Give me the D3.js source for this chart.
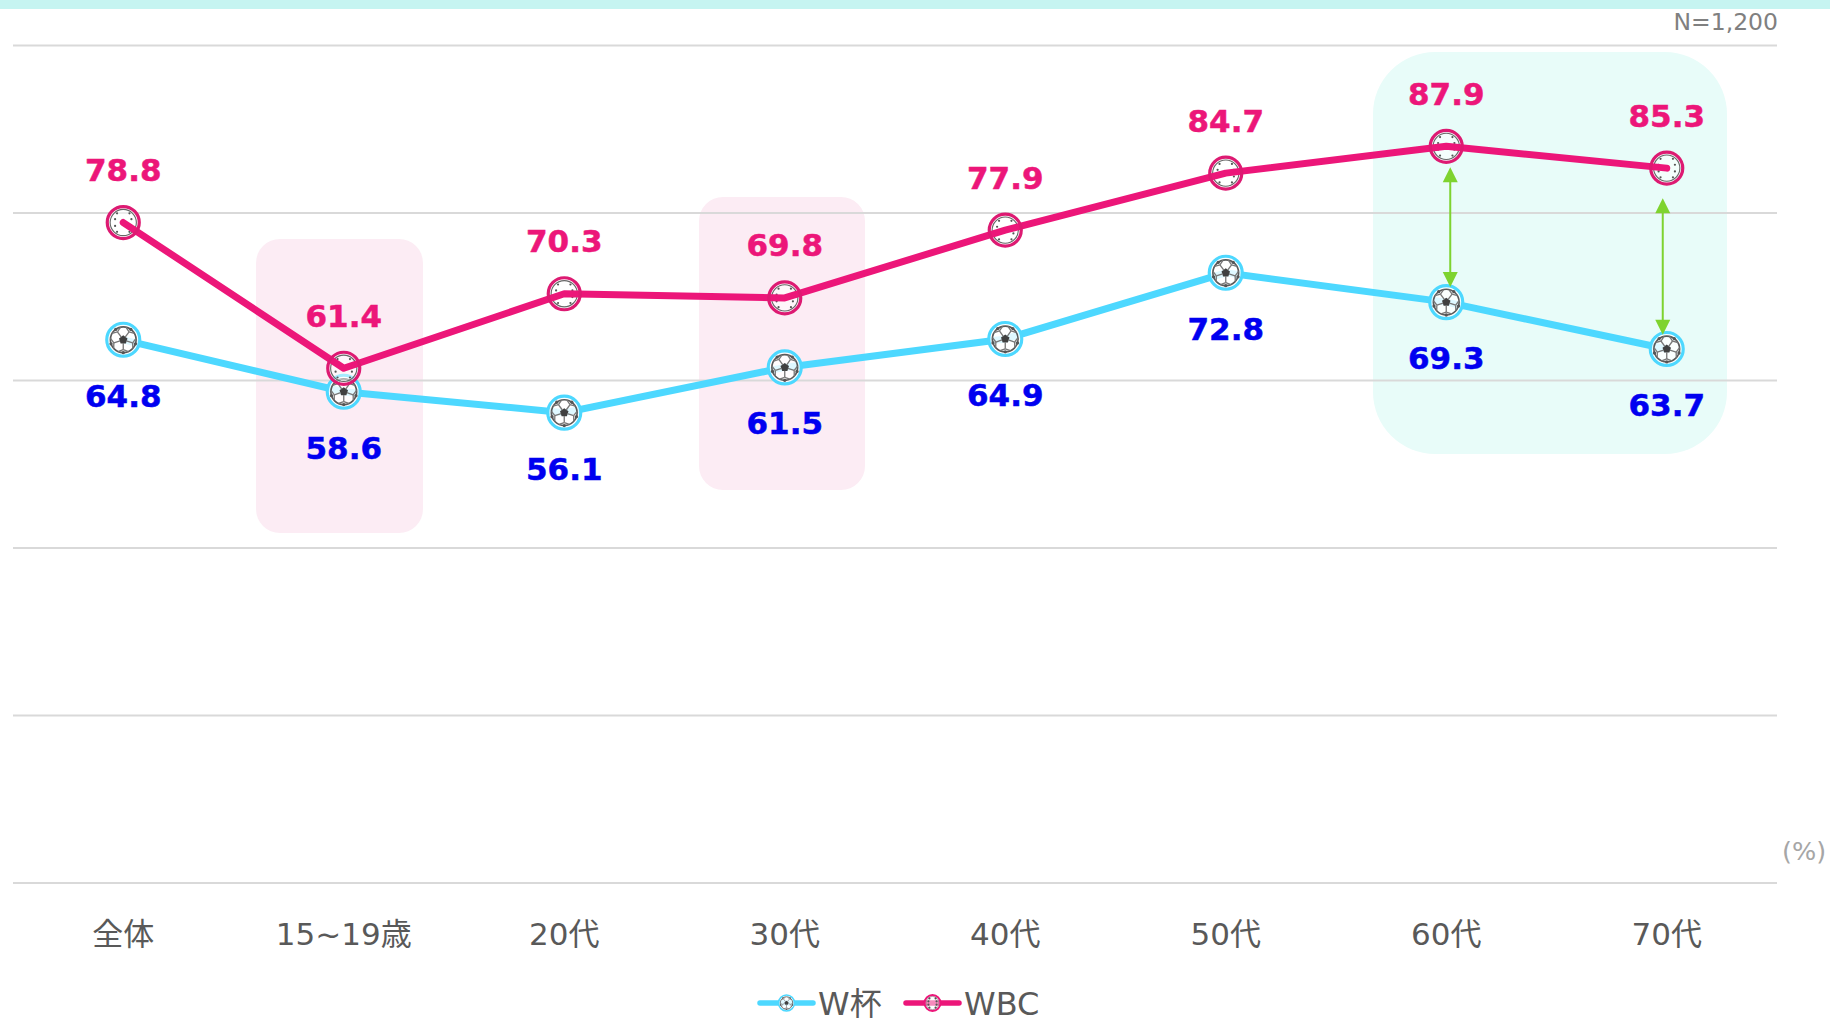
<!DOCTYPE html>
<html><head><meta charset="utf-8">
<script src="https://d3js.org/d3.v7.min.js"></script>
<style>html,body{margin:0;padding:0;background:#fff}svg{display:block}text{font-family:"DejaVu Sans","Noto Sans CJK JP",sans-serif}</style>
</head><body><div id="c"></div>
<script>
const categories=["全体","15~19歳","20代","30代","40代","50代","60代","70代"];
const wcup=[64.8,58.6,56.1,61.5,64.9,72.8,69.3,63.7];
const wbc=[78.8,61.4,70.3,69.8,77.9,84.7,87.9,85.3];
const yTicks=[0,20,40,60,80,100];
const gapArrows=[{cat:"60代",hi:85.4,lo:71.1,dx:4},{cat:"70代",hi:81.7,lo:65.4,dx:-4}];
const W=1830,H=1018;
const svg=d3.select("#c").append("svg").attr("width",W).attr("height",H);
const x=d3.scaleBand().domain(categories).range([13,1777]);
const cx=c=>x(c)+x.bandwidth()/2;
const y=d3.scaleLinear().domain([0,100]).range([882.5,45]);
const BLUE="#4dd8ff",PINK="#ec1679",GREEN="#7ed32f";

svg.append("rect").attr("width",W).attr("height",9).attr("fill","#c6f4f1");
[[256,239,167,294,"#fcecf4",24],[699,197,166,293,"#fcecf4",24],[1373,52,354,402,"#e8fcf9",62]].forEach(d=>{
  svg.append("rect").attr("x",d[0]).attr("y",d[1]).attr("width",d[2]).attr("height",d[3]).attr("rx",d[5]).attr("fill",d[4]);
});
const grid=svg.append("g").call(d3.axisLeft(y).tickValues(yTicks).tickSize(0).tickFormat(""));
grid.select(".domain").remove();
grid.selectAll(".tick line").attr("x1",13).attr("x2",1777).attr("stroke","#d9d9d9").attr("stroke-width",2);

const xa=svg.append("g").attr("transform","translate(0,882.5)").call(d3.axisBottom(x).tickSize(0));
xa.select(".domain").remove();
xa.selectAll("text").attr("font-size",31).attr("fill","#595959").attr("y",62).attr("dy",0);

function soccer(g,r,ring){
  g.append("circle").attr("r",r).attr("fill","#fff").attr("fill-opacity",.82).attr("stroke",ring).attr("stroke-width",r*.19);
  const R=r*.78, pts=d3.range(5).map(i=>{const a=-Math.PI/2+i*2*Math.PI/5;return [Math.cos(a),Math.sin(a)]});
  g.append("circle").attr("r",R).attr("fill","none").attr("stroke","#5a5a5a").attr("stroke-width",r*.1);
  g.append("polygon").attr("points",pts.map(p=>[p[0]*r*.27,p[1]*r*.27].join(",")).join(" ")).attr("fill","#404040");
  pts.forEach(p=>{
    const b=Math.atan2(p[1],p[0])+Math.PI/5,q=[Math.cos(b),Math.sin(b)];
    g.append("line").attr("x1",q[0]*r*.2).attr("y1",q[1]*r*.2).attr("x2",q[0]*r*.6).attr("y2",q[1]*r*.6).attr("stroke","#777").attr("stroke-width",r*.08);
    g.append("line").attr("x1",q[0]*r*.6).attr("y1",q[1]*r*.6).attr("x2",Math.cos(b-.42)*R).attr("y2",Math.sin(b-.42)*R).attr("stroke","#777").attr("stroke-width",r*.08);
    g.append("line").attr("x1",q[0]*r*.6).attr("y1",q[1]*r*.6).attr("x2",Math.cos(b+.42)*R).attr("y2",Math.sin(b+.42)*R).attr("stroke","#777").attr("stroke-width",r*.08);
    g.append("circle").attr("cx",q[0]*R).attr("cy",q[1]*R).attr("r",r*.1).attr("fill","#555");
  });
}
function baseball(g,r,ring){
  g.append("circle").attr("r",r).attr("fill","#fff").attr("fill-opacity",.5);
  g.append("circle").attr("r",r*.82).attr("fill","none").attr("stroke","#666").attr("stroke-width",r*.07);
  [-1,1].forEach(s=>[-.55,-.2,.2,.55].forEach(t=>{
    const px=s*(r*.58-Math.abs(t)*r*.35),py=t*r*1.05;
    g.append("circle").attr("cx",px).attr("cy",py).attr("r",1.1).attr("fill","#555");
  }));
}
const line=d3.line().x((d,i)=>cx(categories[i])).y(d=>y(d));
const at=(d,i)=>`translate(${cx(categories[i])},${y(d)})`;

svg.append("path").datum(wcup).attr("d",line).attr("fill","none").attr("stroke",BLUE).attr("stroke-width",7).attr("stroke-linecap","round");
svg.append("g").selectAll("g").data(wcup).join("g").attr("transform",at).each(function(){soccer(d3.select(this),16.5,BLUE)});
svg.append("g").selectAll("g").data(wbc).join("g").attr("transform",at).each(function(){baseball(d3.select(this),16,PINK)});
svg.append("path").datum(wbc).attr("d",line).attr("fill","none").attr("stroke",PINK).attr("stroke-width",7).attr("stroke-linecap","round").attr("stroke-linejoin","round");
svg.append("g").selectAll("circle").data(wbc).join("circle").attr("transform",at).attr("r",16).attr("fill","none").attr("stroke","#dd1a72").attr("stroke-width",3.2);

gapArrows.forEach(a=>{
  const ax=cx(a.cat)+a.dx,t=y(a.hi),b=y(a.lo);
  const g=svg.append("g");
  g.append("line").attr("x1",ax).attr("x2",ax).attr("y1",t+10).attr("y2",b-10).attr("stroke",GREEN).attr("stroke-width",2);
  g.append("path").attr("d",d3.line()([[ax,t],[ax-7.5,t+15],[ax+7.5,t+15]])+"Z").attr("fill",GREEN);
  g.append("path").attr("d",d3.line()([[ax,b],[ax-7.5,b-15],[ax+7.5,b-15]])+"Z").attr("fill",GREEN);
});

const lab=(vals,color,off)=>svg.append("g").selectAll("text").data(vals).join("text")
  .attr("x",(d,i)=>cx(categories[i])).attr("y",d=>y(d)+off).attr("text-anchor","middle")
  .attr("font-size",31).attr("font-weight",700).attr("fill",color).attr("stroke",color).attr("stroke-width",.5).text(d=>d.toFixed(1));
lab(wbc,PINK,-41.5);lab(wcup,"#0000f0",67);

svg.append("text").attr("x",1778).attr("y",30).attr("text-anchor","end").attr("font-size",23.5).attr("fill","#808080").text("N=1,200");
svg.append("text").attr("x",1782).attr("y",860).attr("font-size",25.5).attr("fill","#a6a6a6").text("(%)");

function legend(x0,label,color,draw){
  const g=svg.append("g").attr("transform","translate("+x0+",1003)");
  g.append("line").attr("x1",2).attr("x2",55).attr("stroke",color).attr("stroke-width",5.5).attr("stroke-linecap","round");
  const m=g.append("g").attr("transform","translate(28.5,0)");draw(m,8,color);
  if(color===PINK)m.append("circle").attr("r",8).attr("fill","none").attr("stroke",color).attr("stroke-width",2);
  g.append("text").attr("x",60).attr("y",12).attr("font-size",32).attr("fill","#595959").text(label);
}
legend(758,"W杯",BLUE,soccer);
legend(904,"WBC",PINK,baseball);
</script></body></html>
